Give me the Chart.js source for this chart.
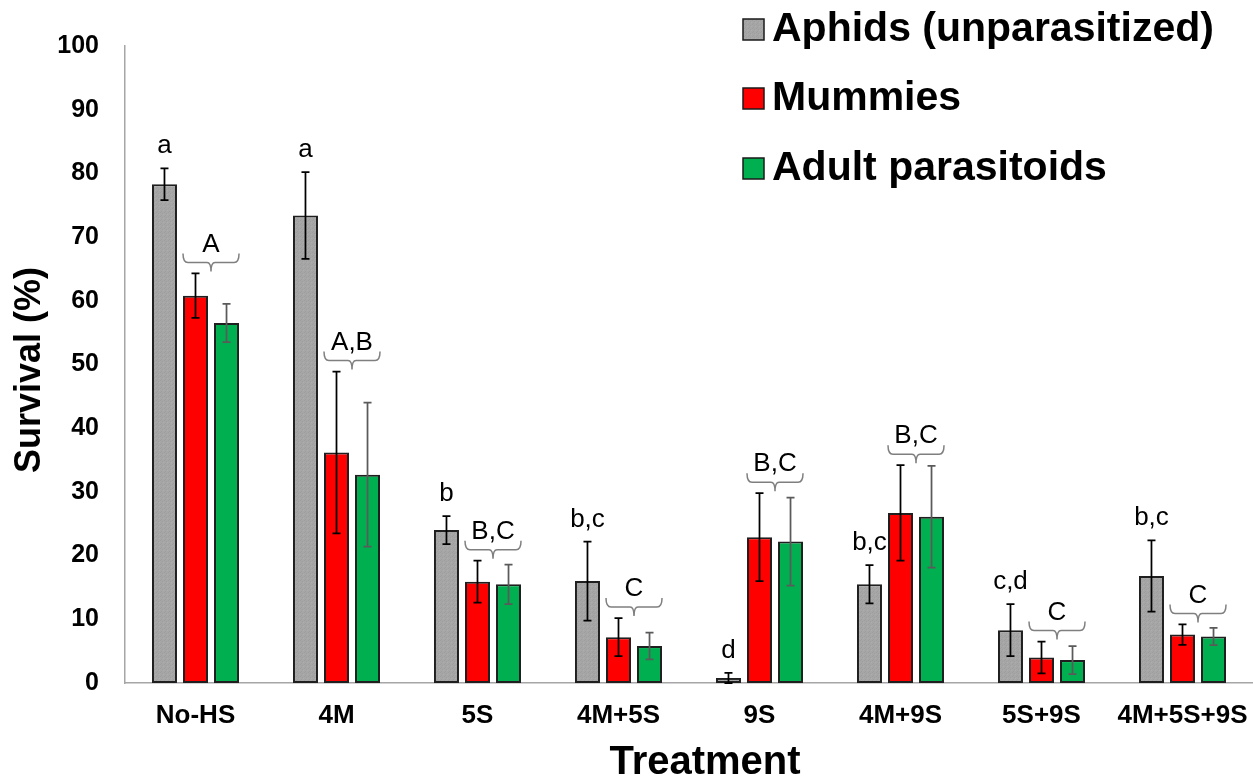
<!DOCTYPE html>
<html>
<head>
<meta charset="utf-8">
<title>Survival by heat-shock treatment</title>
<script src="https://cdn.jsdelivr.net/npm/chart.js@4.4.1/dist/chart.umd.min.js"></script>
<style>
  html, body { margin: 0; padding: 0; background: #ffffff; }
  #wrap { width: 1253px; height: 780px; }
</style>
</head>
<body>
<div id="wrap"><canvas id="chart" width="1253" height="780"></canvas></div>
<script>
// Treatments and mean survival (%) with error bar half-widths
const categories = ['No-HS', '4M', '5S', '4M+5S', '9S', '4M+9S', '5S+9S', '4M+5S+9S'];
const seriesNames = ['Aphids (unparasitized)', 'Mummies', 'Adult parasitoids'];

const aphids     = [78.3, 73.4, 24.0, 16.0, 0.8, 15.5, 8.3, 16.8];
const aphidsErr  = [2.5, 6.8, 2.2, 6.2, 0.8, 3.0, 4.1, 5.6];
const mummies    = [60.8, 36.2, 15.9, 7.2, 22.9, 26.7, 4.0, 7.6];
const mummiesErr = [3.5, 12.7, 3.3, 3.0, 6.9, 7.5, 2.5, 1.6];
const adults     = [56.5, 32.7, 15.5, 5.8, 22.2, 26.1, 3.6, 7.3];
const adultsErr  = [3.0, 11.3, 3.1, 2.1, 6.9, 8.0, 2.2, 1.35];

// Significance groups: lowercase for aphids, uppercase shared by mummies/adults
const aphidLetters = ['a', 'a', 'b', 'b,c', 'd', 'b,c', 'c,d', 'b,c'];
const parasitoidLetters = ['A', 'A,B', 'B,C', 'C', 'B,C', 'B,C', 'C', 'C'];

const yTickValues = [0, 10, 20, 30, 40, 50, 60, 70, 80, 90, 100];

const FONT = '"Liberation Sans", Arial, Helvetica, sans-serif';

// Fine grain fill for the aphid bars
function grainPattern() {
  const c = document.createElement('canvas');
  c.width = 4; c.height = 4;
  const g = c.getContext('2d');
  g.fillStyle = '#a6a6a6';
  g.fillRect(0, 0, 4, 4);
  g.fillStyle = '#9e9e9e';
  g.fillRect(0, 0, 1, 1);
  g.fillRect(2, 1, 1, 1);
  g.fillRect(1, 3, 1, 1);
  g.fillStyle = '#adadad';
  g.fillRect(3, 2, 1, 1);
  return g.createPattern(c, 'repeat');
}
const greyFill = grainPattern();
const fills = [greyFill, '#ff0000', '#00b050'];
const errColors = ['#000000', '#000000', '#5a5a5a'];
const errors = [aphidsErr, mummiesErr, adultsErr];

// Error bars drawn over the bars
const errorBarPlugin = {
  id: 'errorBars',
  afterDatasetsDraw(chart) {
    const ctx = chart.ctx;
    const y = chart.scales.y;
    chart.data.datasets.forEach((ds, di) => {
      const meta = chart.getDatasetMeta(di);
      meta.data.forEach((bar, i) => {
        const v = ds.data[i];
        const e = errors[di][i];
        const top = y.getPixelForValue(v + e);
        const bot = y.getPixelForValue(Math.max(0, v - e));
        ctx.save();
        ctx.strokeStyle = errColors[di];
        ctx.lineWidth = 1.75;
        ctx.beginPath();
        ctx.moveTo(bar.x, top); ctx.lineTo(bar.x, bot);
        ctx.moveTo(bar.x - 4, top); ctx.lineTo(bar.x + 4, top);
        ctx.moveTo(bar.x - 4, bot); ctx.lineTo(bar.x + 4, bot);
        ctx.stroke();
        ctx.restore();
      });
    });
  }
};

// Letters, braces, legend and axis titles
const annotationPlugin = {
  id: 'annotations',
  afterDraw(chart) {
    const ctx = chart.ctx;
    const y = chart.scales.y;
    const mA = chart.getDatasetMeta(0), mM = chart.getDatasetMeta(1), mP = chart.getDatasetMeta(2);
    ctx.save();
    ctx.textAlign = 'center';
    ctx.textBaseline = 'middle';
    ctx.fillStyle = '#000000';
    ctx.font = '26px ' + FONT;
    categories.forEach((c, i) => {
      // aphid group letter
      const ga = mA.data[i];
      const topA = y.getPixelForValue(aphids[i] + aphidsErr[i]);
      ctx.fillText(aphidLetters[i], ga.x, topA - 22);

      // brace spanning mummies and adults
      const rm = mM.data[i], rp = mP.data[i];
      const x0 = rm.x - rm.width / 2;
      const x1 = rp.x + rp.width / 2;
      const xm = (rm.x + rp.x) / 2;
      const topM = Math.min(y.getPixelForValue(mummies[i] + mummiesErr[i]),
                            y.getPixelForValue(adults[i] + adultsErr[i]));
      const by = topM - 11;
      ctx.strokeStyle = '#7f7f7f';
      ctx.lineWidth = 1.5;
      ctx.beginPath();
      ctx.moveTo(x0, by - 9);
      ctx.quadraticCurveTo(x0, by, x0 + 5, by);
      ctx.lineTo(xm - 4, by);
      ctx.quadraticCurveTo(xm, by, xm, by + 9);
      ctx.quadraticCurveTo(xm, by, xm + 4, by);
      ctx.lineTo(x1 - 5, by);
      ctx.quadraticCurveTo(x1, by, x1, by - 9);
      ctx.stroke();
      ctx.fillText(parasitoidLetters[i], xm, by - 18);
    });

    // legend
    const rowsY = [29, 98, 168];
    seriesNames.forEach((name, k) => {
      ctx.fillStyle = fills[k];
      ctx.fillRect(743, rowsY[k] - 10, 21, 21);
      ctx.strokeStyle = '#1a1a1a';
      ctx.lineWidth = 1.5;
      ctx.strokeRect(743, rowsY[k] - 10, 21, 21);
      ctx.fillStyle = '#000000';
      ctx.textAlign = 'left';
      ctx.font = 'bold 41px ' + FONT;
      ctx.fillText(name, 772, rowsY[k] + 1);
    });

    // axis titles
    ctx.textAlign = 'center';
    ctx.font = 'bold 40px ' + FONT;
    ctx.fillText('Treatment', 705, 763);
    ctx.save();
    ctx.translate(30, 370);
    ctx.rotate(-Math.PI / 2);
    ctx.font = 'bold 36px ' + FONT;
    ctx.fillText('Survival (%)', 0, 0);
    ctx.restore();
    ctx.restore();
  }
};

const barStyle = { borderColor: '#1f1f1f', borderWidth: 2, borderSkipped: false,
                   barPercentage: 0.806, categoryPercentage: 0.66 };

new Chart(document.getElementById('chart'), {
  type: 'bar',
  data: {
    labels: categories,
    datasets: [
      Object.assign({ label: seriesNames[0], data: aphids, backgroundColor: fills[0] }, barStyle),
      Object.assign({ label: seriesNames[1], data: mummies, backgroundColor: fills[1] }, barStyle),
      Object.assign({ label: seriesNames[2], data: adults, backgroundColor: fills[2] }, barStyle)
    ]
  },
  options: {
    responsive: false,
    animation: false,
    devicePixelRatio: 1,
    layout: { padding: { top: 46, right: 0, bottom: 0, left: 0 } },
    plugins: { legend: { display: false }, tooltip: { enabled: false } },
    scales: {
      x: {
        grid: { display: false, drawTicks: false },
        border: { display: true, color: '#a6a6a6', width: 1.5 },
        ticks: { color: '#000000', font: { family: FONT, size: 26, weight: 'bold' }, padding: 17,
                 maxRotation: 0, autoSkip: false },
        afterFit(scale) { scale.height = 97; scale.paddingLeft = 0; scale.paddingRight = 0; }
      },
      y: {
        min: 0, max: 100,
        grid: { display: false, drawTicks: false },
        border: { display: true, color: '#a6a6a6', width: 1.5 },
        afterBuildTicks(scale) { scale.ticks = yTickValues.map(v => ({ value: v })); },
        ticks: { color: '#000000', font: { family: FONT, size: 25, weight: 'bold' }, padding: 26 },
        afterFit(scale) { scale.width = 125; }
      }
    }
  },
  plugins: [errorBarPlugin, annotationPlugin]
});
</script>
</body>
</html>
